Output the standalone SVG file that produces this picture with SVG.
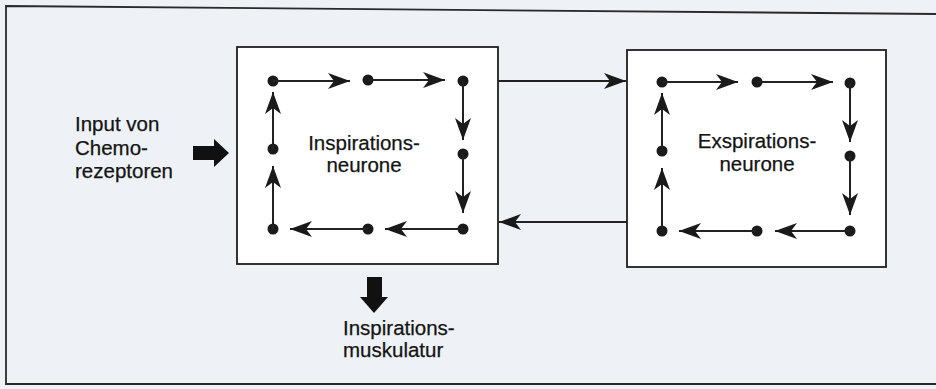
<svg xmlns="http://www.w3.org/2000/svg" width="936" height="389" viewBox="0 0 936 389">
  <style>
    .bg { fill: #eef1f5; }
    .frame { fill: none; stroke: #2a2a2a; stroke-width: 1.8; }
    .box { fill: #ffffff; stroke: #1e1e1e; stroke-width: 1.8; }
    .dot { fill: #1a1a1a; }
    .link { stroke: #222; stroke-width: 2; fill: none; marker-end: url(#head); }
    .lbl { font-family: "Liberation Sans", Arial, sans-serif; font-size: 20.5px; fill: #141414; stroke: #141414; stroke-width: 0.25; }
    .mid { text-anchor: middle; }
    .block { fill: #111; }
  </style>
  <defs>
    <marker id="head" markerUnits="userSpaceOnUse" viewBox="0 0 22 16" markerWidth="22" markerHeight="16" refX="22" refY="8" orient="auto">
      <path d="M0,0 L22,8 L0,16 L6,8 z" fill="#1a1a1a"/>
    </marker>
  </defs>

  <rect class="bg" x="0" y="0" width="936" height="389"/>
  <path class="frame" d="M936,14 L6,6 L6,384 L936,384"/>

  <!-- Inspiration neuron pool -->
  <g id="inspiration">
    <rect class="box" x="237" y="47" width="261" height="217"/>
    <circle class="dot" cx="273" cy="81" r="5.5"/>
    <circle class="dot" cx="368" cy="80" r="5.5"/>
    <circle class="dot" cx="463" cy="81" r="5.5"/>
    <circle class="dot" cx="463" cy="154" r="5.5"/>
    <circle class="dot" cx="463" cy="229" r="5.5"/>
    <circle class="dot" cx="368" cy="229" r="5.5"/>
    <circle class="dot" cx="273" cy="229" r="5.5"/>
    <circle class="dot" cx="273" cy="149" r="5.5"/>
    <text class="lbl mid" x="364" y="150">Inspirations-</text>
    <text class="lbl mid" x="364" y="172">neurone</text>
  </g>

  <!-- Expiration neuron pool -->
  <g id="expiration">
    <rect class="box" x="627" y="50" width="259" height="217"/>
    <circle class="dot" cx="662" cy="82" r="5.5"/>
    <circle class="dot" cx="757" cy="82" r="5.5"/>
    <circle class="dot" cx="850" cy="83" r="5.5"/>
    <circle class="dot" cx="850" cy="156" r="5.5"/>
    <circle class="dot" cx="850" cy="231" r="5.5"/>
    <circle class="dot" cx="757" cy="231" r="5.5"/>
    <circle class="dot" cx="662" cy="231" r="5.5"/>
    <circle class="dot" cx="662" cy="151" r="5.5"/>
    <text class="lbl mid" x="757" y="148">Exspirations-</text>
    <text class="lbl mid" x="757" y="171">neurone</text>
  </g>

  <!-- Chemoreceptor input -->
  <g id="input">
    <text class="lbl" x="75" y="131">Input von</text>
    <text class="lbl" x="75" y="155">Chemo-</text>
    <text class="lbl" x="75" y="178">rezeptoren</text>
    <path class="block" d="M193,146 L214,146 L214,139 L229,153 L214,167 L214,160 L193,160 z"/>
  </g>

  <!-- Output to respiratory muscles -->
  <g id="output">
    <path class="block" d="M367,277 L382,277 L382,297 L388,297 L374,313 L360,297 L367,297 z"/>
    <text class="lbl" x="343" y="335">Inspirations-</text>
    <text class="lbl" x="343" y="357">muskulatur</text>
  </g>

  <g id="connectors">
    <!-- ring inside inspiration pool -->
    <line class="link" x1="273" y1="81" x2="350" y2="81"/>
    <line class="link" x1="368" y1="80" x2="445" y2="80"/>
    <line class="link" x1="463" y1="81" x2="463" y2="140"/>
    <line class="link" x1="463" y1="154" x2="463" y2="213"/>
    <line class="link" x1="463" y1="229" x2="385" y2="229"/>
    <line class="link" x1="368" y1="229" x2="290" y2="229"/>
    <line class="link" x1="273" y1="229" x2="273" y2="166"/>
    <line class="link" x1="273" y1="149" x2="273" y2="92"/>

    <!-- ring inside expiration pool -->
    <line class="link" x1="662" y1="82" x2="738" y2="82"/>
    <line class="link" x1="757" y1="82" x2="833" y2="82"/>
    <line class="link" x1="850" y1="83" x2="850" y2="142"/>
    <line class="link" x1="850" y1="156" x2="850" y2="215"/>
    <line class="link" x1="850" y1="231" x2="775" y2="231"/>
    <line class="link" x1="757" y1="231" x2="679" y2="231"/>
    <line class="link" x1="662" y1="231" x2="662" y2="168"/>
    <line class="link" x1="662" y1="151" x2="662" y2="93"/>

    <!-- coupling between pools -->
    <line class="link" x1="498" y1="81" x2="626" y2="81"/>
    <line class="link" x1="627" y1="222" x2="499" y2="222"/>
  </g>
</svg>
